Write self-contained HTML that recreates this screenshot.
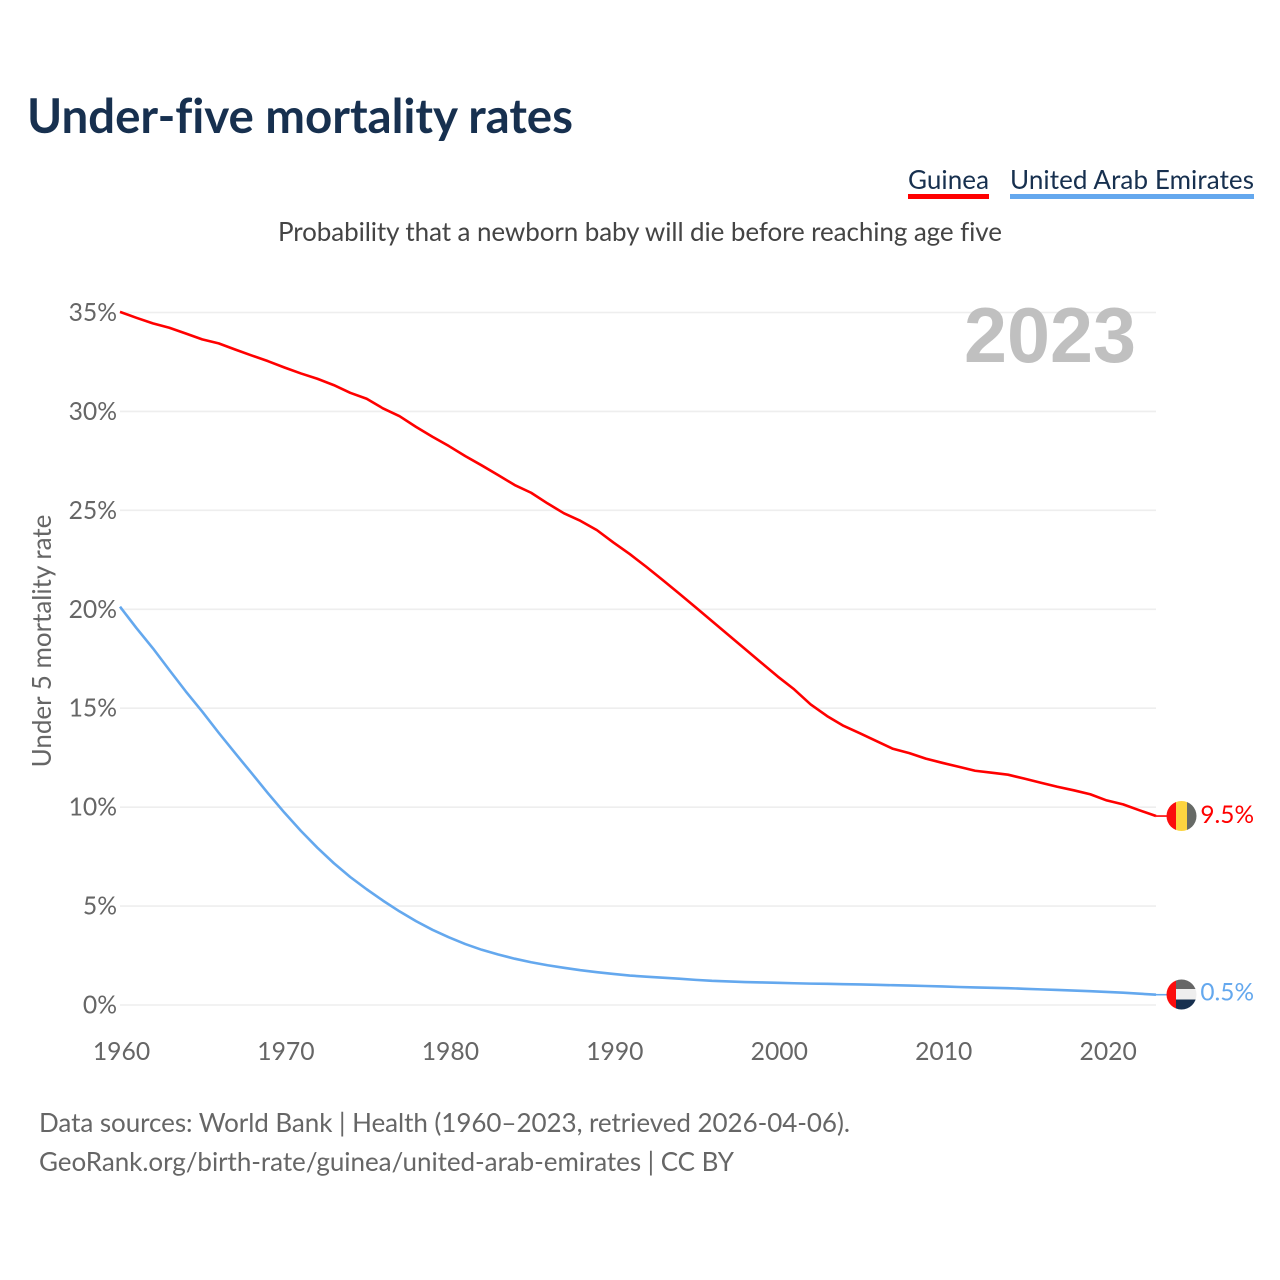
<!DOCTYPE html>
<html lang="en">
<head>
<meta charset="utf-8">
<title>Under-five mortality rates</title>
<style>
html,body{margin:0;padding:0;background:#fff}
svg{display:block}
text{font-family:"Lato","Carlito","Liberation Sans",sans-serif;font-variant-ligatures:none}
</style>
</head>
<body>
<svg id="chart" xmlns="http://www.w3.org/2000/svg" width="1280" height="1280" viewBox="0 0 1280 1280">
  <rect width="1280" height="1280" fill="#fff"/>
  <text x="27" y="133" font-size="47.5" font-weight="700" fill="#17304f" textLength="546" lengthAdjust="spacing">Under-five mortality rates</text>

  <g>
    <text x="908" y="189" font-size="26" fill="#17304f" textLength="81" lengthAdjust="spacing">Guinea</text>
    <rect x="908" y="194" width="81" height="5" fill="#ff0000"/>
  </g>
  <g>
    <text x="1010" y="189" font-size="26" fill="#17304f" textLength="244" lengthAdjust="spacing">United Arab Emirates</text>
    <rect x="1010" y="194" width="244" height="5" fill="#64a8ee"/>
  </g>

  <text x="278" y="241" font-size="26" fill="#444" textLength="724" lengthAdjust="spacing">Probability that a newborn baby will die before reaching age five</text>

  <g id="grid"></g>
  <text x="964" y="362" font-size="78" font-weight="700" fill="#c0c0c0" textLength="172" lengthAdjust="spacingAndGlyphs" style="font-family:'Liberation Sans',sans-serif">2023</text>
  <g id="yticks"></g>
  <g id="xticks"></g>
  <text transform="translate(51 641) rotate(-90)" text-anchor="middle" font-size="26" fill="#666">Under 5 mortality rate</text>
  <g id="series"></g>

  <defs>
    <clipPath id="clip-gn"><circle cx="1181.5" cy="816" r="15"/></clipPath>
    <clipPath id="clip-ae"><circle cx="1181.5" cy="994.5" r="15"/></clipPath>
  </defs>
  <g id="flag-guinea" clip-path="url(#clip-gn)">
    <rect x="1166" y="800" width="10" height="32" fill="#fb0d0d"/>
    <rect x="1176" y="800" width="11" height="32" fill="#fcd440"/>
    <rect x="1187" y="800" width="11" height="32" fill="#666a66"/>
  </g>
  <g id="flag-uae" clip-path="url(#clip-ae)">
    <rect x="1176" y="978" width="22" height="11" fill="#666"/>
    <rect x="1176" y="989" width="22" height="10.5" fill="#eee"/>
    <rect x="1176" y="999.5" width="22" height="12" fill="#17304f"/>
    <rect x="1166" y="978" width="10" height="33" fill="#fb0d0d"/>
  </g>

  <text x="39" y="1132" font-size="26" fill="#666" textLength="811" lengthAdjust="spacing">Data sources: World Bank | Health (1960–2023, retrieved 2026-04-06).</text>
  <text x="39" y="1171" font-size="26" fill="#666" textLength="695" lengthAdjust="spacing">GeoRank.org/birth-rate/guinea/united-arab-emirates | CC BY</text>
</svg>

<script>
const startYear = 1960;
const guineaValues = [35.03,34.73,34.45,34.23,33.94,33.64,33.44,33.13,32.83,32.54,
  32.22,31.92,31.65,31.33,30.94,30.64,30.15,29.76,29.22,28.72,
  28.25,27.74,27.27,26.78,26.28,25.89,25.35,24.85,24.47,24.0,
  23.38,22.79,22.15,21.48,20.8,20.1,19.4,18.7,18.0,17.3,
  16.6,15.95,15.19,14.6,14.11,13.73,13.34,12.95,12.73,12.45,
  12.24,12.04,11.84,11.74,11.64,11.44,11.23,11.03,10.85,10.65,
  10.34,10.14,9.84,9.55];
const uaeValues = [20.13,19.05,18.03,16.93,15.85,14.83,13.76,12.73,11.72,10.7,
  9.72,8.8,7.95,7.17,6.47,5.85,5.27,4.73,4.24,3.8,
  3.42,3.08,2.79,2.55,2.34,2.16,2.01,1.88,1.76,1.66,
  1.57,1.49,1.43,1.38,1.33,1.27,1.22,1.19,1.16,1.14,
  1.12,1.1,1.08,1.07,1.05,1.04,1.02,1.0,0.98,0.96,
  0.94,0.91,0.89,0.87,0.85,0.82,0.79,0.76,0.73,0.7,
  0.66,0.62,0.57,0.52];
const yTickValues = [0,5,10,15,20,25,30,35];
const xTickYears = [1960,1970,1980,1990,2000,2010,2020];
const guineaEndLabel = "9.5%";
const uaeEndLabel = "0.5%";

const NS = "http://www.w3.org/2000/svg";
const xScale = function (year) { return 120 + (year - 1960) * (1036 / 63); };
const yScale = function (v) { return 1005 - v * 19.786; };

function make(tag, parent, attrs, content) {
  const el = document.createElementNS(NS, tag);
  Object.keys(attrs).forEach(function (k) { el.setAttribute(k, attrs[k]); });
  if (content !== undefined) el.textContent = content;
  parent.appendChild(el);
  return el;
}

const gridGroup = document.getElementById("grid");
const yTickGroup = document.getElementById("yticks");
yTickValues.forEach(function (v) {
  const line = make("line", gridGroup, {x1: 120, x2: 1156, y1: yScale(v), y2: yScale(v), stroke: "#eeeeee", "stroke-width": 1.6});
  
  
  const label = make("text", yTickGroup, {x: 117, y: yScale(v) + 8.5, "text-anchor": "end", "font-size": 24.7, fill: "#666"}, v + "%");
  
  
});

const xTickGroup = document.getElementById("xticks");
xTickYears.forEach(function (yr) {
  const label = make("text", xTickGroup, {x: xScale(yr) + 1.5, y: 1060, "text-anchor": "middle", "font-size": 24.7, fill: "#666"}, String(yr));
  
  
});

const seriesGroup = document.getElementById("series");
function drawSeries(values, color, flagX, flagY, endText, labelName, lineName, connectorName) {
  const pts = values.map(function (v, i) {
    return xScale(startYear + i).toFixed(2) + "," + yScale(v).toFixed(2);
  }).join(" ");
  const line = make("polyline", seriesGroup, {points: pts, fill: "none", stroke: color, "stroke-width": 2.6, "stroke-linejoin": "round"});
  
  
  const lastV = values[values.length - 1];
  const lastX = xScale(startYear + values.length - 1);
  const connector = make("line", seriesGroup, {x1: lastX, y1: yScale(lastV), x2: flagX, y2: yScale(lastV), stroke: color, "stroke-width": 1.6});
  
  
  const label = make("text", seriesGroup, {x: 1254, y: flagY, "text-anchor": "end", "font-size": 24.4, fill: color}, endText);
  
  
}
drawSeries(guineaValues, "#ff0000", 1168, 823, guineaEndLabel, "end-label-guinea", "line-guinea", "connector-guinea");
drawSeries(uaeValues, "#64a8ee", 1168, 1000.5, uaeEndLabel, "end-label-uae", "line-uae", "connector-uae");
</script>
</body>
</html>
